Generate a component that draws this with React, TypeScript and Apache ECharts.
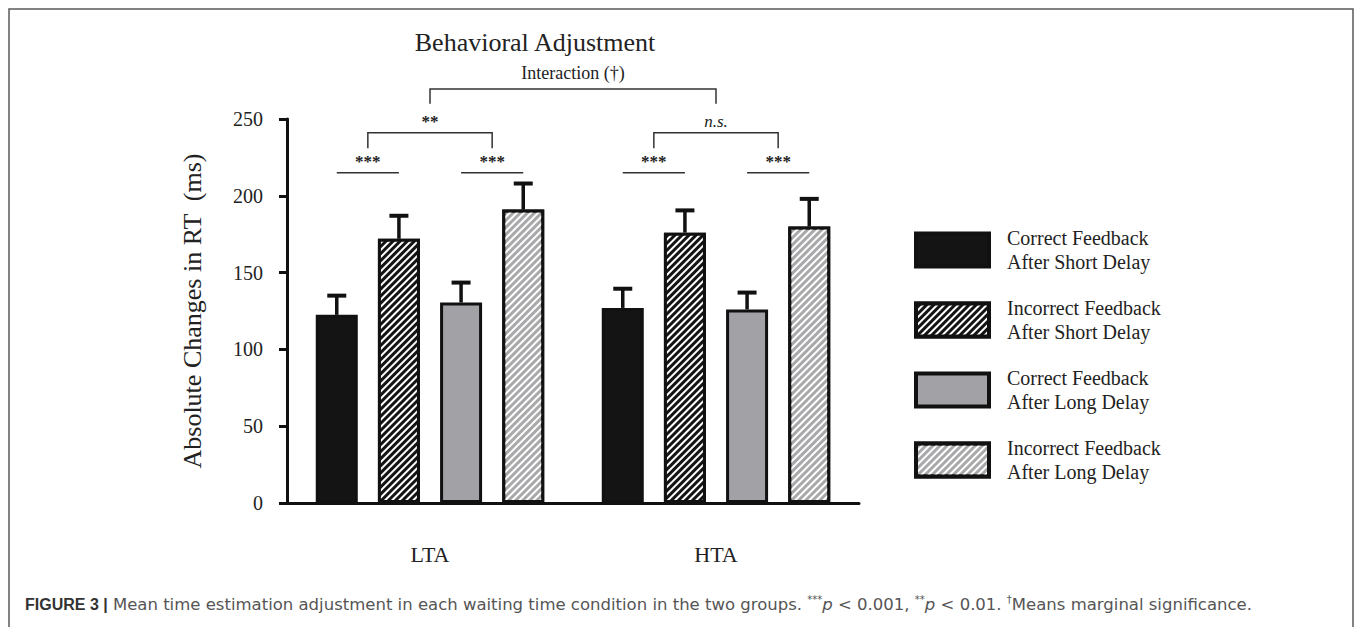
import React, { useEffect, useRef } from "react";
import * as echarts from "echarts";

const groups = ["LTA", "HTA"];
const seriesNames = [
  "Correct Feedback\nAfter Short Delay",
  "Incorrect Feedback\nAfter Short Delay",
  "Correct Feedback\nAfter Long Delay",
  "Incorrect Feedback\nAfter Long Delay",
];
const correctShort = [122.5, 127];
const incorrectShort = [172, 176];
const correctLong = [130.5, 126];
const incorrectLong = [191, 180];
const semCorrectShort = [12.5, 12.5];
const semIncorrectShort = [15, 14.5];
const semCorrectLong = [13, 11];
const semIncorrectLong = [17, 18];
const yTickStep = 50;
const yMax = 250;
const pairStars = [
  ["***", "***"],
  ["***", "***"],
];
const groupContrast = ["**", "n.s."];
const interactionLabel = "Interaction (†)";
const pairLineLevel = 215;
const bracketLevel = 241;
const bracketLegLevel = 231;
const interactionLevel = 269.5;
const interactionLegLevel = 260;

const means = [correctShort, incorrectShort, correctLong, incorrectLong];
const sems = [semCorrectShort, semIncorrectShort, semCorrectLong, semIncorrectLong];

const SERIF = "'Liberation Serif', 'Times New Roman', serif";
const SANS = "'Liberation Sans', Arial, Helvetica, sans-serif";
const SANS_WIDE = "'DejaVu Sans', 'Liberation Sans', sans-serif";
const BAR_WIDTH = 42;
const BAR_GAP = 0.48;
const STEP = BAR_WIDTH * (1 + BAR_GAP);
const fills = ["#141414", "#141414", "#a2a2a6", "#a9a9ab"];
const hatched = [false, true, false, true];

function off(i: number) {
  return (i - 1.5) * STEP;
}

export default function App() {
  const ref = useRef<HTMLDivElement>(null);
  useEffect(() => {
    if (!ref.current) return;
    const chart = echarts.init(ref.current, null, { renderer: "svg" });

    const barSeries = seriesNames.map((name, i) => ({
      name,
      type: "bar",
      data: means[i],
      barWidth: BAR_WIDTH,
      barGap: `${BAR_GAP * 100}%`,
      itemStyle: {
        color: fills[i],
        borderColor: "#111",
        borderWidth: 3,
        decal: hatched[i]
          ? {
              symbol: "rect",
              symbolSize: 1,
              color: "#ffffff",
              dashArrayX: [1, 0],
              dashArrayY: [2, 3],
              rotation: -Math.PI / 4,
            }
          : "none",
      },
      z: 2,
    }));

    const errData: number[][] = [];
    means.forEach((arr, s) =>
      arr.forEach((m, g) => errData.push([g, s, m, sems[s][g]]))
    );

    const option: any = {
      animation: false,
      grid: { left: 287, top: 119, width: 572, height: 384, containLabel: false },
      xAxis: {
        type: "category",
        data: groups,
        axisLine: { lineStyle: { color: "#111", width: 3 } },
        axisTick: { alignWithLabel: true, length: 12, lineStyle: { color: "#111", width: 3 } },
        axisLabel: { margin: 40, fontFamily: SERIF, fontSize: 22, color: "#222" },
        splitLine: { show: false },
      },
      yAxis: {
        type: "value",
        min: 0,
        max: yMax,
        interval: yTickStep,
        name: "Absolute Changes in RT  (ms)",
        nameLocation: "middle",
        nameGap: 82,
        nameTextStyle: { fontFamily: SERIF, fontSize: 26, color: "#222" },
        axisLine: { show: true, lineStyle: { color: "#111", width: 3 } },
        axisTick: { show: true, length: 8, lineStyle: { color: "#111", width: 3 } },
        axisLabel: { margin: 24, fontFamily: SERIF, fontSize: 20, color: "#222" },
        splitLine: { show: false },
      },
      legend: {
        orient: "vertical",
        left: 909,
        top: 221,
        icon: "rect",
        itemWidth: 73,
        itemHeight: 33,
        itemGap: 22,
        data: seriesNames,
        itemStyle: { borderColor: "#111", borderWidth: 4 },
        textStyle: {
          fontFamily: SERIF,
          fontSize: 20,
          lineHeight: 24,
          color: "#222",
          padding: [0, 0, 0, 13],
        },
      },
      series: [
        ...barSeries,
        {
          type: "custom",
          name: "errors",
          data: errData,
          encode: { x: 0, y: 2 },
          z: 5,
          renderItem: (params: any, api: any) => {
            const g = api.value(0);
            const s = api.value(1);
            const m = api.value(2);
            const e = api.value(3);
            const base = api.coord([g, m]);
            const top = api.coord([g, m + e]);
            const x = base[0] + off(s);
            return {
              type: "group",
              children: [
                { type: "line", shape: { x1: x, y1: base[1], x2: x, y2: top[1] }, style: { stroke: "#111", lineWidth: 3.5 } },
                { type: "line", shape: { x1: x - 9.5, y1: top[1], x2: x + 9.5, y2: top[1] }, style: { stroke: "#111", lineWidth: 4 } },
              ],
            };
          },
        },
        {
          type: "custom",
          name: "sig",
          data: groups.map((_, g) => [g, pairLineLevel]),
          encode: { x: 0, y: 1 },
          z: 5,
          renderItem: (params: any, api: any) => {
            const g = api.value(0);
            const cx = api.coord([g, 0])[0];
            const yl = api.coord([g, pairLineLevel])[1];
            const yb = api.coord([g, bracketLevel])[1];
            const ylg = api.coord([g, bracketLegLevel])[1];
            const children: any[] = [];
            const mids: number[] = [];
            [0, 1].forEach((p) => {
              const a = cx + off(p * 2);
              const b = cx + off(p * 2 + 1);
              const mid = (a + b) / 2;
              mids.push(mid);
              children.push({ type: "line", shape: { x1: a, y1: yl, x2: b, y2: yl }, style: { stroke: "#333", lineWidth: 1.5 } });
              children.push({
                type: "text",
                x: mid,
                y: yl - 3,
                style: { text: pairStars[g][p], textAlign: "center", textVerticalAlign: "bottom", font: `bold 17px ${SERIF}`, fill: "#222" },
              });
            });
            children.push({
              type: "polyline",
              shape: { points: [[mids[0], ylg], [mids[0], yb], [mids[1], yb], [mids[1], ylg]] },
              style: { stroke: "#333", lineWidth: 1.5, fill: "none" },
            });
            const lbl = groupContrast[g];
            const italic = /[a-z]/i.test(lbl);
            children.push({
              type: "text",
              x: (mids[0] + mids[1]) / 2,
              y: yb - (italic ? 11 : 3),
              style: {
                text: lbl,
                textAlign: "center",
                textVerticalAlign: italic ? "middle" : "bottom",
                font: `${italic ? "italic" : "bold"} 17px ${SERIF}`,
                fill: "#222",
              },
            });
            return { type: "group", children };
          },
        },
        {
          type: "custom",
          name: "interaction",
          data: [[0, interactionLevel]],
          encode: { x: 0, y: 1 },
          z: 5,
          renderItem: (params: any, api: any) => {
            const c0 = api.coord([0, 0])[0];
            const c1 = api.coord([1, 0])[0];
            const yt = api.coord([0, interactionLevel])[1];
            const yl = api.coord([0, interactionLegLevel])[1];
            return {
              type: "group",
              children: [
                {
                  type: "polyline",
                  shape: { points: [[c0, yl], [c0, yt], [c1, yt], [c1, yl]] },
                  style: { stroke: "#333", lineWidth: 1.5, fill: "none" },
                },
                {
                  type: "text",
                  x: (c0 + c1) / 2,
                  y: yt - 16,
                  style: { text: interactionLabel, textAlign: "center", textVerticalAlign: "middle", font: `18px ${SERIF}`, fill: "#222" },
                },
              ],
            };
          },
        },
      ],
      graphic: [
        {
          type: "rect",
          shape: { x: 9, y: 9, width: 1344, height: 700 },
          style: { fill: "none", stroke: "#5a5a5a", lineWidth: 1.5 },
          silent: true,
        },
        {
          type: "text",
          x: 535,
          y: 42,
          style: { text: "Behavioral Adjustment", textAlign: "center", textVerticalAlign: "middle", font: `26px ${SERIF}`, fill: "#222" },
        },
        {
          type: "text",
          x: 25,
          y: 604,
          style: {
            text:
              "{b|FIGURE 3 |}{n| Mean time estimation adjustment in each waiting time condition in the two groups. }{s|***}{i|p}{n| < 0.001, }{s|**}{i|p}{n| < 0.01. }{s|†}{n|Means marginal significance.}",
            textVerticalAlign: "middle",
            rich: {
              b: { fontFamily: SANS, fontSize: 16, fontWeight: "bold", fill: "#333", lineHeight: 20 },
              n: { fontFamily: SANS_WIDE, fontSize: 16.5, fill: "#555", lineHeight: 20 },
              i: { fontFamily: SANS_WIDE, fontSize: 16.5, fontStyle: "italic", fill: "#555", lineHeight: 20 },
              s: { fontFamily: SANS_WIDE, fontSize: 10, fill: "#555", verticalAlign: "top", lineHeight: 20 },
            },
          },
        },
      ],
    };
    chart.setOption(option);
    return () => chart.dispose();
  }, []);
  return (
    <div
      ref={ref}
      style={{ position: "absolute", left: 0, top: 0, width: 1355, height: 627, background: "#fff" }}
    />
  );
}
